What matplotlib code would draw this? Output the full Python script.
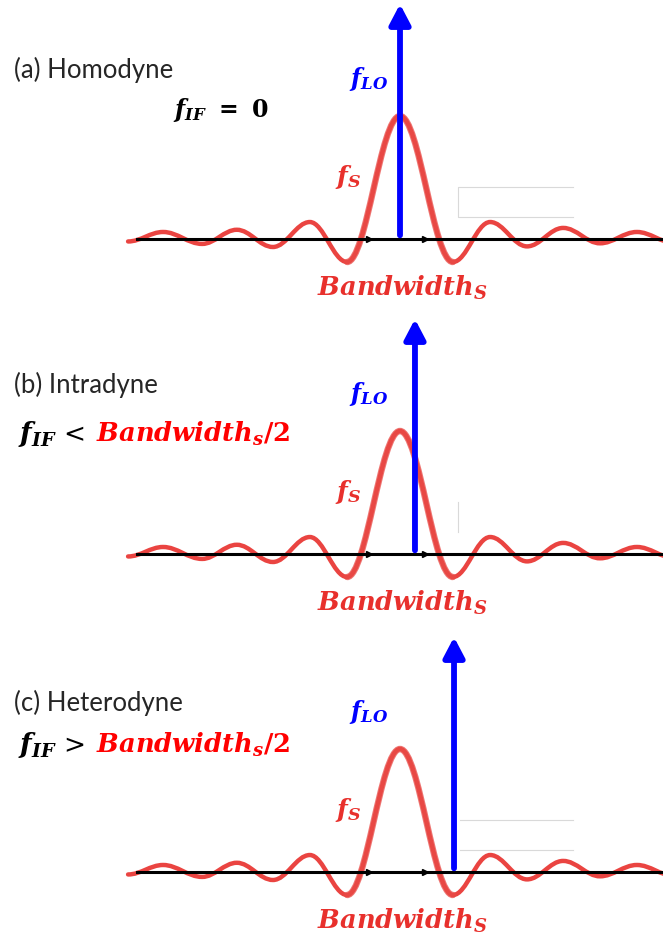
import numpy as np
import matplotlib.pyplot as plt
from matplotlib.path import Path
from matplotlib.patches import PathPatch

plt.rcParams['mathtext.fontset'] = 'custom'
plt.rcParams['mathtext.it'] = 'DejaVu Serif:italic:bold'
plt.rcParams['mathtext.rm'] = 'DejaVu Serif:bold'
plt.rcParams['mathtext.bf'] = 'DejaVu Serif:bold'

# receiver modes and LO offset (in units of the sinc null spacing)
modes = ['(a) Homodyne', '(b) Intradyne', '(c) Heterodyne']
lo_freq = [0.0, 0.41, 1.48]
lo_height = 1.91
cond_sym = [None, '<', '>']
cond_rhs = r'$Bandwidth_{s}/2$'

# signal spectrum: extrema (freq, relative amplitude)
sig_freq = [-7.45, -6.49, -5.42, -4.47, -3.48, -2.47, -1.45, 0.0,
            1.45, 2.47, 3.48, 4.47, 5.48, 6.49, 7.5]
sig_amp = [-0.02, 0.057, -0.04, 0.075, -0.065, 0.138, -0.187, 1.0,
           -0.187, 0.138, -0.06, 0.09, -0.035, 0.057, -0.03]

# leftover grey box in the source image
box_f = [1.59, 4.74]
box_a = [0.179, 0.423]

red = '#e8302c'
blue = '#0000ff'

# layout: baseline y (px from top) of each panel
baselines = [240, 555, 873]
cond_pos = [(-6.22, 1.0), (-10.47, 0.92), (-10.47, 0.976)]


def spectrum_path(i0, i1):
    verts = [(sig_freq[i0], sig_amp[i0])]
    codes = [Path.MOVETO]
    for k in range(i0, i1):
        x0, y0 = sig_freq[k], sig_amp[k]
        x1, y1 = sig_freq[k + 1], sig_amp[k + 1]
        d = x1 - x0
        verts += [(x0 + 0.37 * d, y0), (x1 - 0.37 * d, y1), (x1, y1)]
        codes += [Path.CURVE4] * 3
    return Path(verts, codes)


fig = plt.figure(figsize=(6.63, 9.37), dpi=100)
H = 937
for i in range(3):
    b = baselines[i]
    ax = fig.add_axes([0, 1 - (b + 60) / H, 1, 300 / H])
    ax.set_xlim(-400 / 36.5, 263 / 36.5)
    ax.set_ylim(-60 / 123, 240 / 123)
    ax.axis('off')

    # grey artefact lines
    if i == 0:
        ax.plot([box_f[1], box_f[0], box_f[0], box_f[1]],
                [box_a[1], box_a[1], box_a[0], box_a[0]], color='#d9d9d9', lw=0.8, zorder=1)
    elif i == 1:
        ax.plot([box_f[0], box_f[0]], box_a, color='#d9d9d9', lw=0.8, zorder=1)
    else:
        for a in box_a:
            ax.plot([box_f[0] + 0.05, box_f[1]], [a, a], color='#d9d9d9', lw=0.8, zorder=1)

    # signal spectrum, main lobe drawn a bit heavier
    ax.add_patch(PathPatch(spectrum_path(0, len(sig_freq) - 1), fill=False, edgecolor=red,
                           lw=3.2, alpha=0.9, zorder=2, capstyle='round'))
    ax.add_patch(PathPatch(spectrum_path(6, 8), fill=False, edgecolor='#e84a46',
                           lw=4.6, alpha=0.75, zorder=2, capstyle='round'))

    # frequency axis
    ax.plot([-7.2, 7.4], [0, 0], color='black', lw=2.2, zorder=3)
    ax.plot([-0.85, 0.68], [0, 0], ls='none', marker='>', ms=5, color='black', zorder=3)

    # local oscillator
    ax.annotate('', xy=(lo_freq[i], lo_height), xytext=(lo_freq[i], 0.03),
                arrowprops=dict(arrowstyle='-|>,head_length=0.8,head_width=0.42',
                                mutation_scale=15, color=blue, lw=4.2,
                                shrinkA=0, shrinkB=0), zorder=4)

    ax.text(-10.58, 1.32, modes[i], fontsize=18.5, family='Lato', color='#262626', va='baseline')
    ax.text(-0.85, 1.31, r'$f_{LO}$', fontsize=17, color=blue, ha='center', va='center')
    ax.text(-1.42, 0.51, r'$f_{S}$', fontsize=18, color=red, ha='center', va='center')
    ax.text(0.05, -0.39, r'$Bandwidth_{S}$', fontsize=18.5, color=red, ha='center', va='center')

    cx, cy = cond_pos[i]
    if cond_sym[i] is None:
        ax.text(cx, cy, r'$f_{IF}\ =\ 0$', fontsize=17, color='black', va='baseline')
    else:
        t1 = ax.text(cx, cy, r'$f_{IF}$', fontsize=19.5, color='black', va='baseline')
        fig.canvas.draw()
        x1 = t1.get_window_extent().x1
        t2 = ax.text(ax.transData.inverted().transform((x1 + 7, 0))[0], cy, cond_sym[i],
                     fontsize=19, family='DejaVu Serif', color='black', va='baseline')
        fig.canvas.draw()
        x2 = t2.get_window_extent().x1
        ax.text(ax.transData.inverted().transform((x2 + 10, 0))[0], cy, cond_rhs,
                fontsize=18.5, color='red', va='baseline')

fig.savefig('out.png', dpi=100)
